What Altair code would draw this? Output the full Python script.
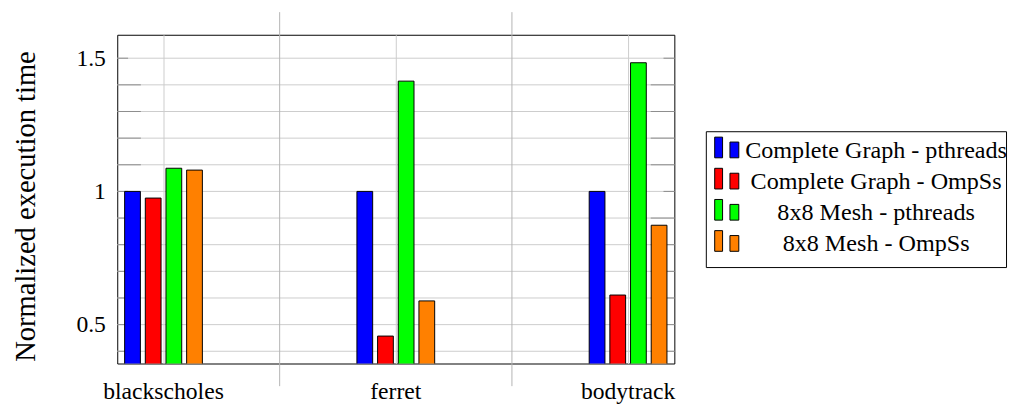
import altair as alt
import pandas as pd

# ---------------- data ----------------
benchmarks = ["blackscholes", "ferret", "bodytrack"]
series = [
    "Complete Graph - pthreads",
    "Complete Graph - OmpSs",
    "8x8 Mesh - pthreads",
    "8x8 Mesh - OmpSs",
]
colors = ["#0000ff", "#ff0000", "#00ff00", "#ff8000"]

cg_pthreads = [1.0, 1.0, 1.0]
cg_ompss = [0.975, 0.457, 0.611]
mesh_pthreads = [1.087, 1.414, 1.483]
mesh_ompss = [1.080, 0.589, 0.873]

y_grid = [0.4, 0.5, 0.6, 0.7, 0.8, 0.9, 1.0, 1.1, 1.2, 1.3, 1.4, 1.5]
y_major = [0.5, 1.0, 1.5]
y_minor = [0.4, 0.6, 0.7, 0.8, 0.9, 1.1, 1.2, 1.3, 1.4]
y_domain = [0.354, 1.588]

FONT = "Liberation Serif"

rows = []
for s, vals in zip(series, [cg_pthreads, cg_ompss, mesh_pthreads, mesh_ompss]):
    for b, v in zip(benchmarks, vals):
        rows.append({"bench": b, "series": s, "value": v})
df = pd.DataFrame(rows)

W, H = 566, 334

x_scale = alt.Scale(domain=benchmarks, range=[-71, 637], paddingInner=0, paddingOuter=0)
y_scale = alt.Scale(domain=y_domain, zero=False, nice=False)
color_scale = alt.Scale(domain=series, range=colors)

x_axis = alt.Axis(
    title=None,
    grid=True,
    gridColor="#cccccc",
    ticks=False,
    tickSize=0,
    domain=False,
    labelAngle=0,
    labelFont=FONT,
    labelFontSize=24,
    labelColor="black",
    labelPadding=17,
)
y_axis = alt.Axis(
    values=y_grid,
    format="~g",
    labelExpr="(datum.value == 0.5 || datum.value == 1 || datum.value == 1.5) ? datum.label : ''",
    grid=False,
    ticks=False,
    tickSize=0,
    domain=False,
    labelFont=FONT,
    labelFontSize=24,
    labelColor="black",
    labelPadding=12,
    title="Normalized execution time",
    titleFont=FONT,
    titleFontSize=29,
    titleFontWeight="normal",
    titleColor="black",
    titlePadding=36,
    titleY=174,
)

# horizontal grid lines
grid = alt.Chart(pd.DataFrame({"v": y_grid})).mark_rule(color="#cccccc", strokeWidth=1).encode(
    y=alt.Y("v:Q", scale=y_scale, axis=y_axis),
    x=alt.value(0),
    x2=alt.value(W),
)

# boundary lines between categories (extend beyond the plot frame)
bounds_df = pd.DataFrame({"bench": benchmarks[:-1]})
boundary = alt.Chart(bounds_df).mark_rule(color="#b4b4b4", strokeWidth=1).encode(
    x=alt.X("bench:N", scale=x_scale, sort=benchmarks, bandPosition=1, axis=x_axis),
    y=alt.value(-23),
    y2=alt.value(H + 23),
)

def tick_layer(vals, x0, x1):
    return alt.Chart(pd.DataFrame({"v": vals})).mark_rule(color="#8c8c8c", strokeWidth=1).encode(
        y=alt.Y("v:Q", scale=y_scale, axis=y_axis),
        x=alt.value(x0),
        x2=alt.value(x1),
    )

ticks = [
    tick_layer(y_major, 0, 11),
    tick_layer(y_minor, 0, 24),
    tick_layer(y_major, W - 11, W),
    tick_layer(y_minor, W - 24, W),
]

bars = alt.Chart(df).mark_bar(stroke="black", strokeWidth=1, clip=True).encode(
    x=alt.X("bench:N", scale=x_scale, sort=benchmarks, axis=x_axis),
    xOffset=alt.XOffset(
        "series:N",
        sort=series,
        scale=alt.Scale(domain=series, range=[78.5, 157.5], paddingInner=0.238, paddingOuter=0),
    ),
    y=alt.Y("value:Q", scale=y_scale, axis=y_axis),
    color=alt.Color("series:N", scale=color_scale, legend=None),
)

main = alt.layer(grid, boundary, *ticks, bars).properties(width=W, height=H)

# ---------------- legend panel ----------------
leg_df = pd.DataFrame({"series": series})
leg_y = alt.Scale(type="point", domain=series, range=[27, 122], padding=0)

icon1 = alt.Chart(leg_df).mark_point(
    shape="M-0.381,-1H0.381V1H-0.381Z", size=441, filled=True,
    stroke="black", strokeWidth=1, opacity=1, yOffset=-10.5,
).encode(
    x=alt.value(13),
    y=alt.Y("series:N", scale=leg_y, axis=None),
    fill=alt.Color("series:N", scale=color_scale, legend=None),
)
icon2 = alt.Chart(leg_df).mark_point(
    shape="M-0.5625,-1H0.5625V1H-0.5625Z", size=256, filled=True,
    stroke="black", strokeWidth=1, opacity=1, yOffset=-8,
).encode(
    x=alt.value(29),
    y=alt.Y("series:N", scale=leg_y, axis=None),
    fill=alt.Color("series:N", scale=color_scale, legend=None),
)
labels = alt.Chart(leg_df).mark_text(
    font=FONT, fontSize=24.5, align="center", baseline="alphabetic", color="black",
).encode(
    x=alt.value(173),
    y=alt.Y("series:N", scale=leg_y, axis=None),
    text="series:N",
)
legend = alt.layer(icon1, icon2, labels).properties(width=305, height=138)

chart = (
    alt.hconcat(main, legend, spacing=32, bounds="flush", center=True)
    .properties(padding={"left": 3, "top": 0, "right": 0, "bottom": 0})
    .configure_view(stroke="black", strokeWidth=1)
)

chart.save("out.html", embed_options={"renderer": "svg", "actions": False})
